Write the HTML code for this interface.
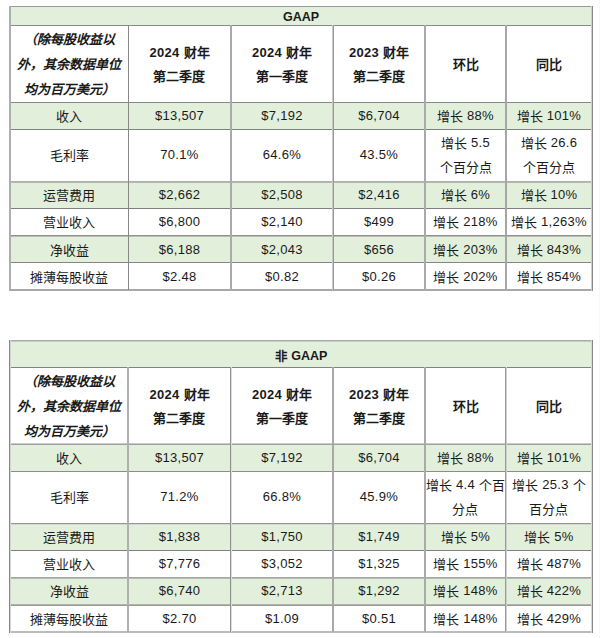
<!DOCTYPE html>
<html lang="zh-CN"><head><meta charset="utf-8"><style>
html,body{margin:0;padding:0;background:#fff;width:600px;height:638px;overflow:hidden}
body{position:relative;font-family:"Liberation Sans",sans-serif;font-size:13px;color:#1a1a1a}
i{position:absolute;display:block}
.c{position:absolute;display:flex;align-items:center;justify-content:center;text-align:center;line-height:24px;white-space:nowrap;letter-spacing:0.3px}
.c .k{letter-spacing:0}
.b{font-weight:bold}
.i{font-style:italic}
.lab{line-height:24.75px}
.k{position:relative;top:1px}
.hd .k{top:0}
.t{font-size:12.5px;letter-spacing:0}
</style></head><body>
<i style="left:10px;top:6px;width:582px;height:19px;background:#e2efda"></i>
<i style="left:10px;top:102px;width:582px;height:27px;background:#e2efda"></i>
<i style="left:10px;top:181px;width:582px;height:27px;background:#e2efda"></i>
<i style="left:10px;top:235px;width:582px;height:27px;background:#e2efda"></i>
<i style="left:9px;top:6px;width:584px;height:1px;background:#999"></i>
<i style="left:9px;top:25px;width:584px;height:1px;background:#8a8a8a"></i>
<i style="left:9px;top:102px;width:584px;height:1px;background:#888"></i>
<i style="left:9px;top:129px;width:584px;height:1px;background:#808080"></i>
<i style="left:9px;top:181px;width:584px;height:1px;background:#b0b0b0"></i>
<i style="left:9px;top:182px;width:584px;height:1px;background:#b4b8b0"></i>
<i style="left:9px;top:208px;width:584px;height:1px;background:#808080"></i>
<i style="left:9px;top:235px;width:584px;height:1px;background:#909090"></i>
<i style="left:9px;top:236px;width:584px;height:1px;background:#b8beb4"></i>
<i style="left:9px;top:262px;width:584px;height:1px;background:#858585"></i>
<i style="left:9px;top:289px;width:584px;height:1px;background:#a8a8a8"></i>
<i style="left:9px;top:290px;width:584px;height:1px;background:#a8a8a8"></i>
<i style="left:9px;top:6px;width:1px;height:285px;background:#aeaeae"></i>
<i style="left:10px;top:6px;width:1px;height:285px;background:#aeaeae"></i>
<i style="left:591px;top:6px;width:1px;height:285px;background:#cfcfcf"></i>
<i style="left:592px;top:6px;width:1px;height:285px;background:#888"></i>
<i style="left:128px;top:25px;width:1px;height:265px;background:#888"></i>
<i style="left:230px;top:25px;width:1px;height:265px;background:#aaa"></i>
<i style="left:231px;top:25px;width:1px;height:265px;background:#aaa"></i>
<i style="left:332px;top:25px;width:1px;height:265px;background:#c8c8c8"></i>
<i style="left:333px;top:25px;width:1px;height:265px;background:#999"></i>
<i style="left:424px;top:25px;width:1px;height:265px;background:#aaa"></i>
<i style="left:425px;top:25px;width:1px;height:265px;background:#aaa"></i>
<i style="left:505px;top:25px;width:1px;height:265px;background:#a6a6a6"></i>
<i style="left:506px;top:25px;width:1px;height:265px;background:#a6a6a6"></i>
<div class="c b t" style="left:10px;top:7px;width:582px;height:19px"><div>GAAP</div></div>
<div class="c b i lab" style="left:10px;top:26px;width:118px;height:77px"><div><span class="k">（除每股收益以</span><br><span class="k">外，其余数据单位</span><br><span class="k">均为百万美元）</span></div></div>
<div class="c b hd" style="left:128px;top:26px;width:103px;height:77px"><div>2024 <span class="k">财年</span><br><span class="k">第二季度</span></div></div>
<div class="c b hd" style="left:231px;top:26px;width:102px;height:77px"><div>2024 <span class="k">财年</span><br><span class="k">第一季度</span></div></div>
<div class="c b hd" style="left:333px;top:26px;width:92px;height:77px"><div>2023 <span class="k">财年</span><br><span class="k">第二季度</span></div></div>
<div class="c b hd" style="left:425px;top:26px;width:81px;height:77px"><div><span class="k">环比</span></div></div>
<div class="c b hd" style="left:506px;top:26px;width:86px;height:77px"><div><span class="k">同比</span></div></div>
<div class="c" style="left:10px;top:102px;width:118px;height:27px"><div><span class="k">收入</span></div></div>
<div class="c" style="left:128px;top:102px;width:103px;height:27px"><div>$13,507</div></div>
<div class="c" style="left:231px;top:102px;width:102px;height:27px"><div>$7,192</div></div>
<div class="c" style="left:333px;top:102px;width:92px;height:27px"><div>$6,704</div></div>
<div class="c" style="left:425px;top:102px;width:81px;height:27px"><div><span class="k">增长</span> 88%</div></div>
<div class="c" style="left:506px;top:102px;width:86px;height:27px"><div><span class="k">增长</span> 101%</div></div>
<div class="c" style="left:10px;top:129px;width:118px;height:52px"><div><span class="k">毛利率</span></div></div>
<div class="c" style="left:128px;top:129px;width:103px;height:52px"><div>70.1%</div></div>
<div class="c" style="left:231px;top:129px;width:102px;height:52px"><div>64.6%</div></div>
<div class="c" style="left:333px;top:129px;width:92px;height:52px"><div>43.5%</div></div>
<div class="c" style="left:425px;top:129px;width:81px;height:52px"><div><span class="k">增长</span> 5.5<br><span class="k">个百分点</span></div></div>
<div class="c" style="left:506px;top:129px;width:86px;height:52px"><div><span class="k">增长</span> 26.6<br><span class="k">个百分点</span></div></div>
<div class="c" style="left:10px;top:181px;width:118px;height:27px"><div><span class="k">运营费用</span></div></div>
<div class="c" style="left:128px;top:181px;width:103px;height:27px"><div>$2,662</div></div>
<div class="c" style="left:231px;top:181px;width:102px;height:27px"><div>$2,508</div></div>
<div class="c" style="left:333px;top:181px;width:92px;height:27px"><div>$2,416</div></div>
<div class="c" style="left:425px;top:181px;width:81px;height:27px"><div><span class="k">增长</span> 6%</div></div>
<div class="c" style="left:506px;top:181px;width:86px;height:27px"><div><span class="k">增长</span> 10%</div></div>
<div class="c" style="left:10px;top:208px;width:118px;height:27px"><div><span class="k">营业收入</span></div></div>
<div class="c" style="left:128px;top:208px;width:103px;height:27px"><div>$6,800</div></div>
<div class="c" style="left:231px;top:208px;width:102px;height:27px"><div>$2,140</div></div>
<div class="c" style="left:333px;top:208px;width:92px;height:27px"><div>$499</div></div>
<div class="c" style="left:425px;top:208px;width:81px;height:27px"><div><span class="k">增长</span> 218%</div></div>
<div class="c" style="left:506px;top:208px;width:86px;height:27px"><div><span class="k">增长</span> 1,263%</div></div>
<div class="c" style="left:10px;top:236px;width:118px;height:27px"><div><span class="k">净收益</span></div></div>
<div class="c" style="left:128px;top:236px;width:103px;height:27px"><div>$6,188</div></div>
<div class="c" style="left:231px;top:236px;width:102px;height:27px"><div>$2,043</div></div>
<div class="c" style="left:333px;top:236px;width:92px;height:27px"><div>$656</div></div>
<div class="c" style="left:425px;top:236px;width:81px;height:27px"><div><span class="k">增长</span> 203%</div></div>
<div class="c" style="left:506px;top:236px;width:86px;height:27px"><div><span class="k">增长</span> 843%</div></div>
<div class="c" style="left:10px;top:263px;width:118px;height:28px"><div><span class="k">摊薄每股收益</span></div></div>
<div class="c" style="left:128px;top:263px;width:103px;height:28px"><div>$2.48</div></div>
<div class="c" style="left:231px;top:263px;width:102px;height:28px"><div>$0.82</div></div>
<div class="c" style="left:333px;top:263px;width:92px;height:28px"><div>$0.26</div></div>
<div class="c" style="left:425px;top:263px;width:81px;height:28px"><div><span class="k">增长</span> 202%</div></div>
<div class="c" style="left:506px;top:263px;width:86px;height:28px"><div><span class="k">增长</span> 854%</div></div>
<i style="left:10px;top:340px;width:582px;height:27px;background:#e2efda"></i>
<i style="left:10px;top:444px;width:582px;height:27px;background:#e2efda"></i>
<i style="left:10px;top:523px;width:582px;height:27px;background:#e2efda"></i>
<i style="left:10px;top:577px;width:582px;height:28px;background:#e2efda"></i>
<i style="left:9px;top:340px;width:584px;height:1px;background:#aaa"></i>
<i style="left:9px;top:341px;width:584px;height:1px;background:#c5ccc0"></i>
<i style="left:9px;top:367px;width:584px;height:1px;background:#828282"></i>
<i style="left:9px;top:443px;width:584px;height:1px;background:#cccccc"></i>
<i style="left:9px;top:444px;width:584px;height:1px;background:#a0a0a0"></i>
<i style="left:9px;top:471px;width:584px;height:1px;background:#8c8c8c"></i>
<i style="left:9px;top:523px;width:584px;height:1px;background:#959595"></i>
<i style="left:9px;top:524px;width:584px;height:1px;background:#d4d8d0"></i>
<i style="left:9px;top:550px;width:584px;height:1px;background:#808080"></i>
<i style="left:9px;top:577px;width:584px;height:1px;background:#a5a5a5"></i>
<i style="left:9px;top:578px;width:584px;height:1px;background:#b5bcb0"></i>
<i style="left:9px;top:604px;width:584px;height:1px;background:#b0b5aa"></i>
<i style="left:9px;top:605px;width:584px;height:1px;background:#9a9a9a"></i>
<i style="left:9px;top:631px;width:584px;height:1px;background:#bbb"></i>
<i style="left:9px;top:632px;width:584px;height:1px;background:#bbb"></i>
<i style="left:9px;top:340px;width:1px;height:293px;background:#888"></i>
<i style="left:10px;top:340px;width:1px;height:293px;background:#d4d4d4"></i>
<i style="left:591px;top:340px;width:1px;height:293px;background:#d8d8d8"></i>
<i style="left:592px;top:340px;width:1px;height:293px;background:#888"></i>
<i style="left:127px;top:367px;width:1px;height:265px;background:#b0b0b0"></i>
<i style="left:128px;top:367px;width:1px;height:265px;background:#b0b0b0"></i>
<i style="left:230px;top:367px;width:1px;height:265px;background:#909090"></i>
<i style="left:231px;top:367px;width:1px;height:265px;background:#dcdcdc"></i>
<i style="left:332px;top:367px;width:1px;height:265px;background:#a8a8a8"></i>
<i style="left:333px;top:367px;width:1px;height:265px;background:#a8a8a8"></i>
<i style="left:424px;top:367px;width:1px;height:265px;background:#aaa"></i>
<i style="left:425px;top:367px;width:1px;height:265px;background:#aaa"></i>
<i style="left:505px;top:367px;width:1px;height:265px;background:#999"></i>
<i style="left:506px;top:367px;width:1px;height:265px;background:#d0d0d0"></i>
<div class="c b t" style="left:10px;top:342px;width:582px;height:27px"><div><span class="k">非</span> GAAP</div></div>
<div class="c b i lab" style="left:10px;top:368px;width:118px;height:77px"><div><span class="k">（除每股收益以</span><br><span class="k">外，其余数据单位</span><br><span class="k">均为百万美元）</span></div></div>
<div class="c b hd" style="left:128px;top:368px;width:103px;height:77px"><div>2024 <span class="k">财年</span><br><span class="k">第二季度</span></div></div>
<div class="c b hd" style="left:231px;top:368px;width:102px;height:77px"><div>2024 <span class="k">财年</span><br><span class="k">第一季度</span></div></div>
<div class="c b hd" style="left:333px;top:368px;width:92px;height:77px"><div>2023 <span class="k">财年</span><br><span class="k">第二季度</span></div></div>
<div class="c b hd" style="left:425px;top:368px;width:81px;height:77px"><div><span class="k">环比</span></div></div>
<div class="c b hd" style="left:506px;top:368px;width:86px;height:77px"><div><span class="k">同比</span></div></div>
<div class="c" style="left:10px;top:444px;width:118px;height:27px"><div><span class="k">收入</span></div></div>
<div class="c" style="left:128px;top:444px;width:103px;height:27px"><div>$13,507</div></div>
<div class="c" style="left:231px;top:444px;width:102px;height:27px"><div>$7,192</div></div>
<div class="c" style="left:333px;top:444px;width:92px;height:27px"><div>$6,704</div></div>
<div class="c" style="left:425px;top:444px;width:81px;height:27px"><div><span class="k">增长</span> 88%</div></div>
<div class="c" style="left:506px;top:444px;width:86px;height:27px"><div><span class="k">增长</span> 101%</div></div>
<div class="c" style="left:10px;top:471px;width:118px;height:52px"><div><span class="k">毛利率</span></div></div>
<div class="c" style="left:128px;top:471px;width:103px;height:52px"><div>71.2%</div></div>
<div class="c" style="left:231px;top:471px;width:102px;height:52px"><div>66.8%</div></div>
<div class="c" style="left:333px;top:471px;width:92px;height:52px"><div>45.9%</div></div>
<div class="c" style="left:425px;top:471px;width:81px;height:52px"><div><span class="k">增长</span> 4.4 <span class="k">个百</span><br><span class="k">分点</span></div></div>
<div class="c" style="left:506px;top:471px;width:86px;height:52px"><div><span class="k">增长</span> 25.3 <span class="k">个</span><br><span class="k">百分点</span></div></div>
<div class="c" style="left:10px;top:523px;width:118px;height:27px"><div><span class="k">运营费用</span></div></div>
<div class="c" style="left:128px;top:523px;width:103px;height:27px"><div>$1,838</div></div>
<div class="c" style="left:231px;top:523px;width:102px;height:27px"><div>$1,750</div></div>
<div class="c" style="left:333px;top:523px;width:92px;height:27px"><div>$1,749</div></div>
<div class="c" style="left:425px;top:523px;width:81px;height:27px"><div><span class="k">增长</span> 5%</div></div>
<div class="c" style="left:506px;top:523px;width:86px;height:27px"><div><span class="k">增长</span> 5%</div></div>
<div class="c" style="left:10px;top:550px;width:118px;height:27px"><div><span class="k">营业收入</span></div></div>
<div class="c" style="left:128px;top:550px;width:103px;height:27px"><div>$7,776</div></div>
<div class="c" style="left:231px;top:550px;width:102px;height:27px"><div>$3,052</div></div>
<div class="c" style="left:333px;top:550px;width:92px;height:27px"><div>$1,325</div></div>
<div class="c" style="left:425px;top:550px;width:81px;height:27px"><div><span class="k">增长</span> 155%</div></div>
<div class="c" style="left:506px;top:550px;width:86px;height:27px"><div><span class="k">增长</span> 487%</div></div>
<div class="c" style="left:10px;top:577px;width:118px;height:28px"><div><span class="k">净收益</span></div></div>
<div class="c" style="left:128px;top:577px;width:103px;height:28px"><div>$6,740</div></div>
<div class="c" style="left:231px;top:577px;width:102px;height:28px"><div>$2,713</div></div>
<div class="c" style="left:333px;top:577px;width:92px;height:28px"><div>$1,292</div></div>
<div class="c" style="left:425px;top:577px;width:81px;height:28px"><div><span class="k">增长</span> 148%</div></div>
<div class="c" style="left:506px;top:577px;width:86px;height:28px"><div><span class="k">增长</span> 422%</div></div>
<div class="c" style="left:10px;top:605px;width:118px;height:27px"><div><span class="k">摊薄每股收益</span></div></div>
<div class="c" style="left:128px;top:605px;width:103px;height:27px"><div>$2.70</div></div>
<div class="c" style="left:231px;top:605px;width:102px;height:27px"><div>$1.09</div></div>
<div class="c" style="left:333px;top:605px;width:92px;height:27px"><div>$0.51</div></div>
<div class="c" style="left:425px;top:605px;width:81px;height:27px"><div><span class="k">增长</span> 148%</div></div>
<div class="c" style="left:506px;top:605px;width:86px;height:27px"><div><span class="k">增长</span> 429%</div></div>
<i style="left:599px;top:0px;width:1px;height:638px;background:#f8f8f8"></i>
</body></html>
